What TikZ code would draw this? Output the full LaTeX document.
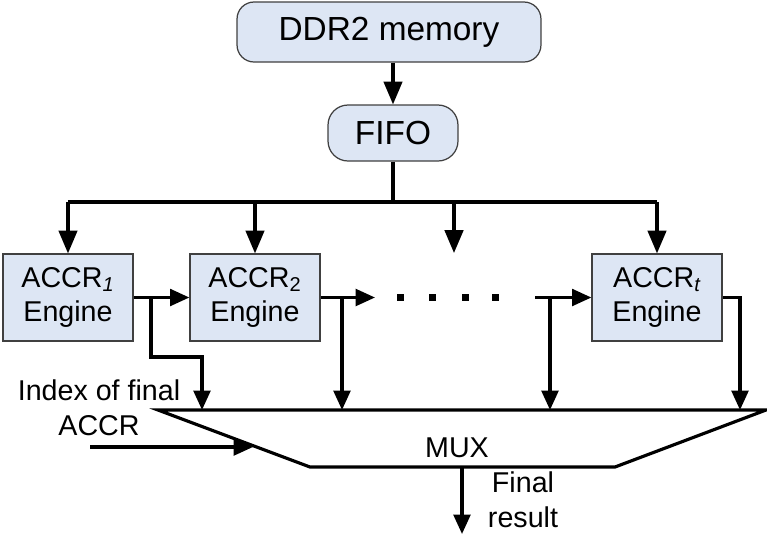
\documentclass[tikz,border=0pt]{standalone}
\usepackage{fontspec}
\setmainfont{Liberation Sans}
\usetikzlibrary{arrows.meta, calc}
\usepackage{xcolor}
\definecolor{azulclaro}{RGB}{221, 230, 244}
\definecolor{borda}{RGB}{64, 64, 64}

\begin{document}
\begin{tikzpicture}[
    x=0.02cm, y=-0.02cm,
    bloco/.style={
        draw=borda,
        line width=0.7pt,
        fill=azulclaro,
        align=center,
        inner sep=0pt,
        font=\fontsize{16.3}{19.8}\selectfont
    },
    motor/.style={bloco, minimum width=2.6cm, minimum height=1.74cm},
    arred/.style={bloco, font=\fontsize{19}{22}\selectfont},
    fio/.style={line width=1.8pt},
    seta/.style={
        fio,
        -{Triangle[length=11pt, width=9.5pt]}
    },
    setagrande/.style={
        fio,
        -{Triangle[length=13pt, width=10.5pt]}
    },
    rotulo/.style={align=center, font=\fontsize{16.3}{19.8}\selectfont}
]

\useasboundingbox (0,0) rectangle (767,535);

\node[arred, minimum width=6.08cm, minimum height=1.2cm, rounded corners=0.34cm] (ddr) at (389,32)
{DDR2 memory};

\node[arred, minimum width=2.6cm, minimum height=1.12cm, rounded corners=0.4cm] (fifo) at (393,133)
{FIFO};

\node[motor] (acc1) at (68,297.5)
{ACCR\textsubscript{\itshape 1}\\
Engine};

\node[motor] (acc2) at (255,297.5)
{ACCR\textsubscript{2}\\
Engine};

\node[motor] (acct) at (657,297.5)
{ACCR\textsubscript{\itshape t}\\
Engine};

\coordinate (barra) at (393,202);
\coordinate (meio) at (454,253);
\coordinate (p1) at (375,297.5);
\coordinate (p2) at (535,297.5);
\coordinate (r1) at (151,357);
\coordinate (e1) at (202,410);
\coordinate (e2) at (342,410);
\coordinate (e3) at (550,410);
\coordinate (e4) at (740,410);
\coordinate (idx) at (90,447);
\coordinate (idxfim) at (253,447);
\coordinate (muxbase) at (462,467);
\coordinate (saida) at (462,534);

\draw[setagrande] (fifo.north |- ddr.south) -- (fifo.north);
\draw[fio] (fifo.south) -- (barra);
\draw[fio] (acc1.north |- barra) -- (acct.north |- barra);
\foreach \alvo in {acc1, acc2, acct}
    \draw[setagrande] (\alvo.north |- barra) -- (\alvo.north);
\draw[setagrande] (meio |- barra) -- (meio);

\draw[seta] (acc1.east) -- (acc2.west);
\draw[seta] (acc2.east) -- (p1);
\draw[seta] (p2) -- (acct.west);
\foreach \x in {400, 432, 465, 495}
    \fill (\x-3.5,293.5) rectangle (\x+3.5,300.5);

\draw[seta] (acc1.east -| r1) -- (r1) -| (e1);
\draw[seta] (acc2.east -| e2) -- (e2);
\draw[seta] (acct.west -| e3) -- (e3);
\draw[seta] (acct.east) -| (e4);

\draw[fio] (158,410) -- (766,410) -- (615,467) -- (310,467) -- cycle;
\node[rotulo] (mux) at (457,448) {MUX};

\node[rotulo] (indice) at (99,408)
{Index of final\\
ACCR};
\draw[seta] (idx) -- (idxfim);

\draw[seta] (muxbase) -- (saida);
\node[rotulo] (resultado) at (523,500)
{Final\\
result};

\end{tikzpicture}
\end{document}
